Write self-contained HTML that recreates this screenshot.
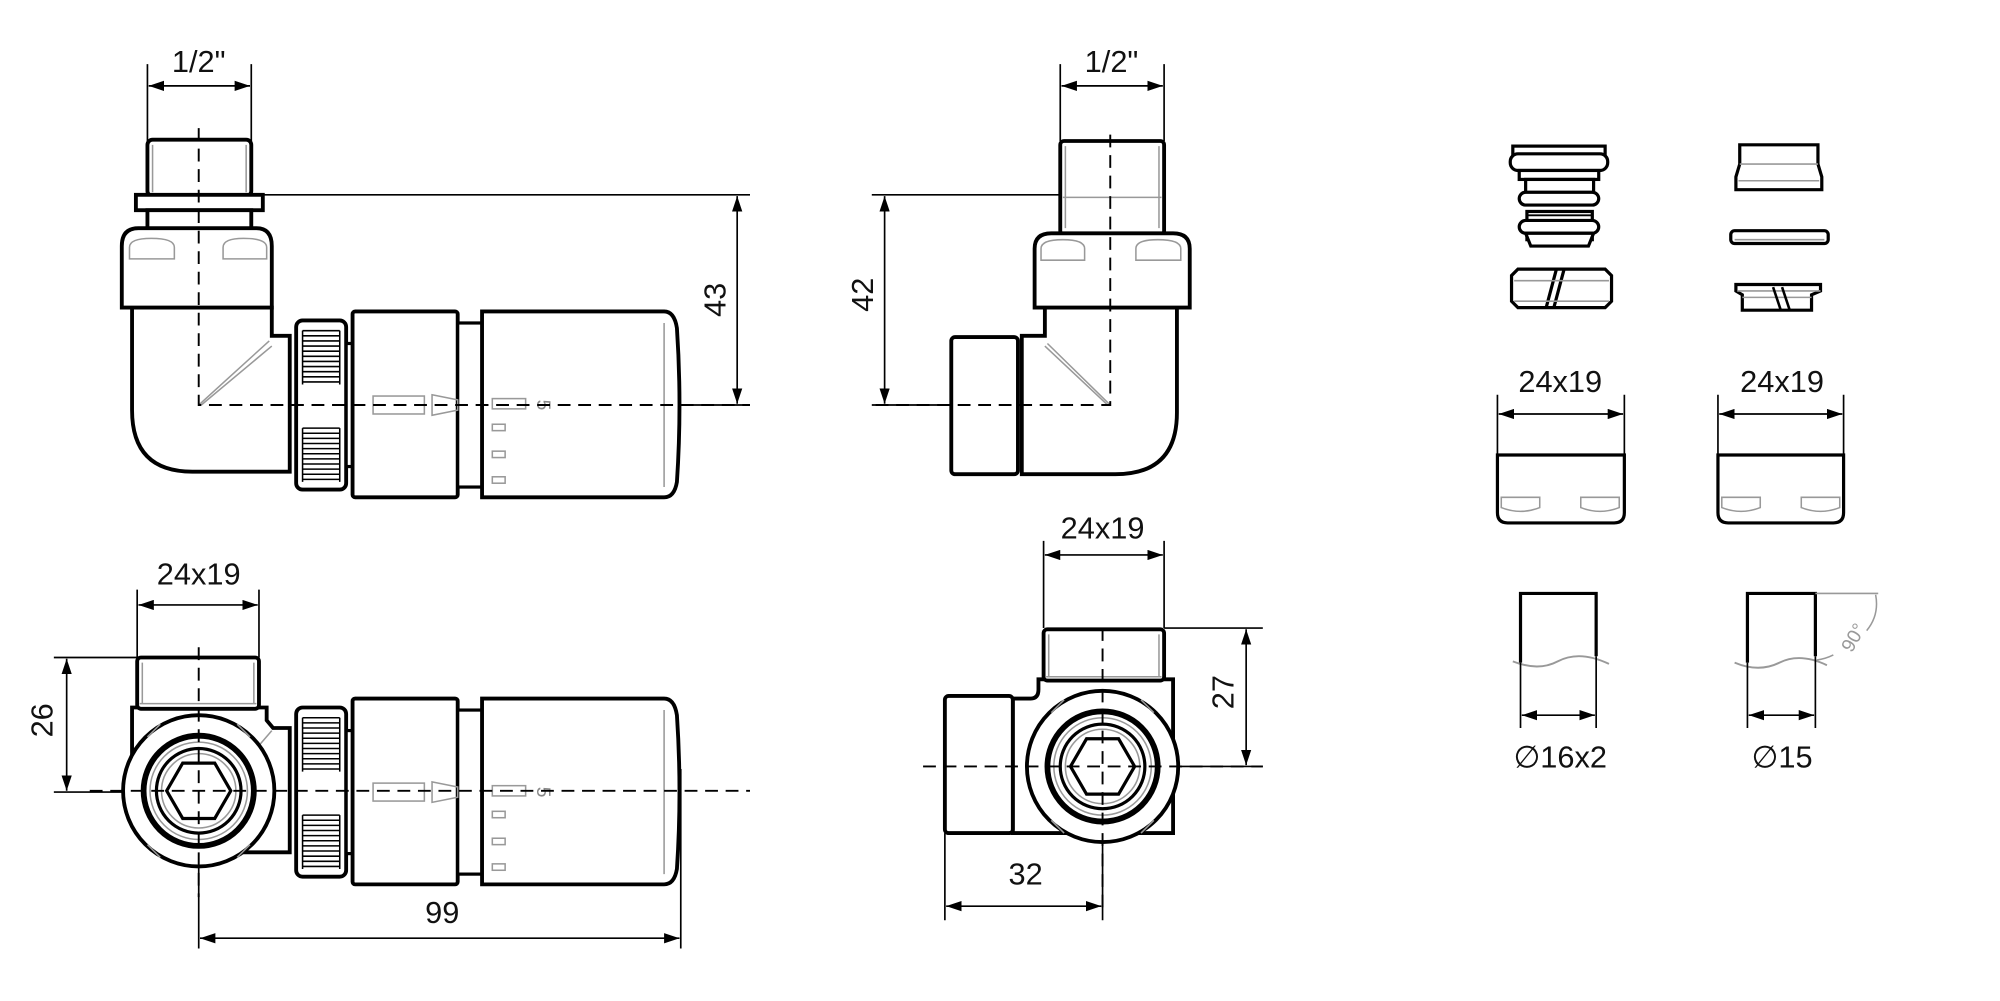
<!DOCTYPE html>
<html><head><meta charset="utf-8"><style>
html,body{margin:0;padding:0;background:#fff;}
svg{display:block;}
text{font-family:"Liberation Sans","DejaVu Sans",sans-serif;fill:#111;}
</style></head><body>
<svg width="2000" height="1001" viewBox="0 0 1560 781" preserveAspectRatio="none" xmlns="http://www.w3.org/2000/svg">
<defs>
<marker id="a" viewBox="0 0 12 8" refX="12" refY="4" markerWidth="12" markerHeight="8" markerUnits="userSpaceOnUse" orient="auto-start-reverse"><path d="M0,0 L12,4 L0,8 Z" fill="#000"/></marker>
<g id="head">
 <rect x="231" y="250" width="39" height="132" rx="5" fill="#fff" stroke="#000" stroke-width="3"/>
 <g stroke="#000" stroke-width="1.2">
  <path d="M236,258H265M236,262H265M236,266H265M236,270H265M236,274H265M236,278H265M236,282H265M236,286H265M236,290H265M236,294H265M236,298H265"/>
  <path d="M236,334H265M236,338H265M236,342H265M236,346H265M236,350H265M236,354H265M236,358H265M236,362H265M236,366H265M236,370H265M236,374H265"/>
  <path d="M236,258V300M265,258V300M236,334V376M265,334V376"/>
 </g>
 <rect x="270" y="268" width="6" height="96" fill="#fff" stroke="#000" stroke-width="2.5"/>
 <rect x="275" y="243" width="82" height="145" rx="2" fill="#fff" stroke="#000" stroke-width="3"/>
 <rect x="357" y="252" width="19" height="128" fill="#fff" stroke="#000" stroke-width="2.5"/>
 <path d="M376,243H518Q526,243 528,256Q532,316 528,376Q526,388 518,388H376Z" fill="#fff" stroke="#000" stroke-width="3"/>
 <g stroke="#999" stroke-width="1.2" fill="none">
  <path d="M518,252V380"/>
  <rect x="291" y="309" width="40" height="14"/>
  <path d="M337,308L357,312V320L337,324Z"/>
  <rect x="384" y="311" width="26" height="8"/>
  <rect x="384" y="331" width="10" height="5"/>
  <rect x="384" y="352" width="10" height="5"/>
  <rect x="384" y="372" width="10" height="5"/>
 </g>
 <text x="424" y="316" font-size="15" fill="#888" style="fill:#888" text-anchor="middle" transform="rotate(90 424 316)" dy="5">5</text>
</g>
<g id="face">
 <circle cx="0" cy="0" r="59" fill="#fff" stroke="#000" stroke-width="3"/>
 <g stroke="#999" stroke-width="1.2" fill="none"><path d="M-40,-42L-30,-52M40,-42L30,-52M-40,42L-30,52M40,42L30,52"/></g>
 <circle cx="0" cy="0" r="43" fill="none" stroke="#000" stroke-width="4.5"/>
 <circle cx="0" cy="0" r="38" fill="none" stroke="#999" stroke-width="1.2"/>
 <circle cx="0" cy="0" r="33" fill="none" stroke="#000" stroke-width="2.5"/>
 <circle cx="0" cy="0" r="29" fill="none" stroke="#999" stroke-width="1.2"/>
 <path d="M-25,0L-12.5,-21.6H12.5L25,0L12.5,21.6H-12.5Z" fill="#fff" stroke="#000" stroke-width="2.5"/>
</g>
</defs>

<!-- ===== TOP LEFT ===== -->
<g fill="none" stroke="#000" stroke-width="1.3">
 <path d="M115,50V110M196,50V110"/>
 <path d="M116,67H195" marker-start="url(#a)" marker-end="url(#a)"/>
 <path d="M205,152H585M530,316H585"/>
 <path d="M575,153V315" marker-start="url(#a)" marker-end="url(#a)"/>
</g>
<text x="155" y="56" font-size="24" text-anchor="middle">1/2"</text>
<text x="566" y="234" font-size="24" text-anchor="middle" transform="rotate(-90 566 234)" dy="0">43</text>

<rect x="115" y="109" width="81" height="44" rx="4" fill="#fff" stroke="#000" stroke-width="3"/>
<path d="M119,113V150M192,113V150" stroke="#999" stroke-width="1.2"/>
<rect x="106" y="152" width="99" height="12" fill="#fff" stroke="#000" stroke-width="3"/>
<rect x="115" y="164" width="81" height="15" fill="#fff" stroke="#000" stroke-width="3"/>
<path d="M212,240V262H226V368H150Q103,368 103,320V240Z" fill="#fff" stroke="#000" stroke-width="3"/>
<path d="M155,316L210,266M157,316L212,270" stroke="#999" stroke-width="1.2"/>
<path d="M95,240V192Q95,178 108,178H200Q212,178 212,192V240Z" fill="#fff" stroke="#000" stroke-width="3"/>
<g stroke="#999" stroke-width="1.2" fill="none">
 <path d="M101,202V193Q101,186 118,186Q136,186 136,193V202Z"/>
 <path d="M174,202V193Q174,186 190,186Q208,186 208,193V202Z"/>
</g>
<use href="#head"/>
<path d="M155,100V316H585" fill="none" stroke="#000" stroke-width="1.5" stroke-dasharray="10,6"/>

<!-- ===== TOP MIDDLE ===== -->
<g fill="none" stroke="#000" stroke-width="1.3">
 <path d="M827,50V110M908,50V110"/>
 <path d="M828,67H907" marker-start="url(#a)" marker-end="url(#a)"/>
 <path d="M680,152H827M680,316H742"/>
 <path d="M690,153V315" marker-start="url(#a)" marker-end="url(#a)"/>
</g>
<text x="867" y="56" font-size="24" text-anchor="middle">1/2"</text>
<text x="681" y="230" font-size="24" text-anchor="middle" transform="rotate(-90 681 230)">42</text>
<path d="M815,240V262H797V370H870Q918,370 918,322V240Z" fill="#fff" stroke="#000" stroke-width="3"/>
<path d="M866,316L817,268M864,316L815,270" stroke="#999" stroke-width="1.2"/>
<rect x="742" y="263" width="52" height="107" rx="3" fill="#fff" stroke="#000" stroke-width="3"/>
<rect x="827" y="110" width="81" height="73" rx="3" fill="#fff" stroke="#000" stroke-width="3"/>
<path d="M831,114V178M904,114V178M829,154H906" stroke="#999" stroke-width="1.2"/>
<path d="M807,240V194Q807,182 820,182H915Q928,182 928,194V240Z" fill="#fff" stroke="#000" stroke-width="3"/>
<g stroke="#999" stroke-width="1.2" fill="none">
 <path d="M812,203V194Q812,187 829,187Q846,187 846,194V203Z"/>
 <path d="M886,203V194Q886,187 903,187Q921,187 921,194V203Z"/>
</g>
<path d="M866,105V316H680" fill="none" stroke="#000" stroke-width="1.5" stroke-dasharray="10,6"/>

<!-- ===== BOTTOM LEFT ===== -->
<g fill="none" stroke="#000" stroke-width="1.3">
 <path d="M107,460V513M202,460V513"/>
 <path d="M108,472H201" marker-start="url(#a)" marker-end="url(#a)"/>
 <path d="M42,513H107M42,618H95"/>
 <path d="M52,514V617" marker-start="url(#a)" marker-end="url(#a)"/>
 <path d="M155,675V740M531,600V740"/>
 <path d="M156,732H530" marker-start="url(#a)" marker-end="url(#a)"/>
</g>
<text x="155" y="456" font-size="24" text-anchor="middle">24x19</text>
<text x="41" y="562" font-size="24" text-anchor="middle" transform="rotate(-90 41 562)">26</text>
<text x="345" y="720" font-size="24" text-anchor="middle">99</text>
<g transform="translate(0,302)"><use href="#head"/></g>
<path d="M103,600V552H208V562L213,568H226V665H175" fill="#fff" stroke="#000" stroke-width="3"/>
<path d="M200,584L212,570" stroke="#999" stroke-width="1.2"/>
<rect x="107" y="513" width="95" height="40" rx="3" fill="#fff" stroke="#000" stroke-width="3"/>
<path d="M111,517V549M198,517V549M109,549H200" stroke="#999" stroke-width="1.2"/>
<g transform="translate(155,617)"><use href="#face"/></g>
<path d="M155,505V700M70,617H585" fill="none" stroke="#000" stroke-width="1.5" stroke-dasharray="10,6"/>

<!-- ===== BOTTOM MIDDLE ===== -->
<g fill="none" stroke="#000" stroke-width="1.3">
 <path d="M814,422V490M908,422V490"/>
 <path d="M815,433H907" marker-start="url(#a)" marker-end="url(#a)"/>
 <path d="M908,490H985M918,598H985"/>
 <path d="M972,491V597" marker-start="url(#a)" marker-end="url(#a)"/>
 <path d="M737,650V718M860,640V718"/>
 <path d="M738,707H859" marker-start="url(#a)" marker-end="url(#a)"/>
</g>
<text x="860" y="420" font-size="24" text-anchor="middle">24x19</text>
<text x="962" y="540" font-size="24" text-anchor="middle" transform="rotate(-90 962 540)">27</text>
<text x="800" y="690" font-size="24" text-anchor="middle">32</text>
<path d="M810,530H915V650H790V545H804Q810,545 810,538Z" fill="#fff" stroke="#000" stroke-width="3"/>
<rect x="737" y="543" width="53" height="107" rx="3" fill="#fff" stroke="#000" stroke-width="3"/>
<rect x="814" y="491" width="94" height="40" rx="3" fill="#fff" stroke="#000" stroke-width="3"/>
<path d="M818,495V528M904,495V528M816,528H906" stroke="#999" stroke-width="1.2"/>
<g transform="translate(860,598)"><use href="#face"/></g>
<path d="M860,490V710M720,598H985" fill="none" stroke="#000" stroke-width="1.5" stroke-dasharray="10,6"/>

<!-- ===== RIGHT PARTS ===== -->
<!-- left column -->
<g fill="#fff" stroke="#000" stroke-width="2.5">
 <path d="M1196,168V154H1238V168Z"/>
 <path d="M1188,158H1245V190H1188Z" stroke-width="0"/>
 <rect x="1191" y="165" width="51" height="22" />
 <rect x="1180" y="114" width="72" height="7"/>
 <rect x="1178" y="120" width="76" height="13" rx="6"/>
 <rect x="1185" y="133" width="62" height="7"/>
 <rect x="1190" y="140" width="53" height="12"/>
 <rect x="1185" y="150" width="62" height="10" rx="5"/>
 <rect x="1185" y="172" width="62" height="10" rx="5"/>
 <path d="M1190,182H1243L1239,192H1194Z"/>
</g>
<g stroke="#000" stroke-width="1.5"><path d="M1191,160H1242M1191,165H1242M1191,168H1242"/></g>
<path d="M1179,215L1184,210H1252L1257,215V235L1252,240H1184L1179,235Z" fill="#fff" stroke="#000" stroke-width="2.5"/>
<path d="M1206,240L1214,210M1212,240L1220,210" stroke="#000" stroke-width="2.5"/>
<path d="M1181,219H1255M1181,235H1255" stroke="#999" stroke-width="1.2"/>
<!-- right column -->
<path d="M1357,113H1418V128L1421,138V148H1354V138L1357,128Z" fill="#fff" stroke="#000" stroke-width="2.5"/>
<path d="M1357,128H1418M1356,141H1419" stroke="#999" stroke-width="1.2"/>
<rect x="1350" y="180" width="76" height="10" rx="3" fill="#fff" stroke="#000" stroke-width="2.5"/>
<path d="M1353,187H1423" stroke="#999" stroke-width="1.2"/>
<path d="M1354,222H1420V227L1413,230V242H1359V230L1354,227Z" fill="#fff" stroke="#000" stroke-width="2.5"/>
<path d="M1355,227H1420M1359,232H1413" stroke="#999" stroke-width="1.2"/>
<path d="M1383,224L1389,242M1390,224L1396,242" stroke="#000" stroke-width="2"/>

<!-- caps -->
<g fill="none" stroke="#000" stroke-width="1.3">
 <path d="M1168,308V356M1267,308V356M1340,308V356M1438,308V356"/>
 <path d="M1169,323H1266" marker-start="url(#a)" marker-end="url(#a)"/>
 <path d="M1341,323H1437" marker-start="url(#a)" marker-end="url(#a)"/>
</g>
<text x="1217" y="306" font-size="24" text-anchor="middle">24x19</text>
<text x="1390" y="306" font-size="24" text-anchor="middle">24x19</text>
<path d="M1168,355H1267V400Q1267,408 1259,408H1176Q1168,408 1168,400Z" fill="#fff" stroke="#000" stroke-width="2.5"/>
<path d="M1340,355H1438V400Q1438,408 1430,408H1348Q1340,408 1340,400Z" fill="#fff" stroke="#000" stroke-width="2.5"/>
<g stroke="#999" stroke-width="1.2" fill="none">
 <path d="M1171,388H1201V396Q1186,402 1171,396Z"/>
 <path d="M1233,388H1263V396Q1248,402 1233,396Z"/>
 <path d="M1343,388H1373V396Q1358,402 1343,396Z"/>
 <path d="M1405,388H1435V396Q1420,402 1405,396Z"/>
</g>

<!-- pipes -->
<path d="M1186,517V463H1245V512" fill="none" stroke="#000" stroke-width="2.5"/>
<path d="M1363,517V463H1416V512" fill="none" stroke="#000" stroke-width="2.5"/>
<path d="M1180,516Q1200,524 1215,516Q1232,507 1255,518" fill="none" stroke="#999" stroke-width="1.5"/>
<path d="M1353,517Q1372,525 1388,517Q1404,509 1425,519" fill="none" stroke="#999" stroke-width="1.5"/>
<g fill="none" stroke="#000" stroke-width="1.3">
 <path d="M1186,517V568M1245,512V568M1363,517V568M1416,512V568"/>
 <path d="M1187,558H1244" marker-start="url(#a)" marker-end="url(#a)"/>
 <path d="M1364,558H1415" marker-start="url(#a)" marker-end="url(#a)"/>
</g>
<path d="M1416,463H1465" stroke="#999" stroke-width="1.2"/>
<path d="M1463,464Q1466,480 1456,492M1430,511Q1424,514 1417,515" fill="none" stroke="#999" stroke-width="1.2"/>
<text x="1450" y="500" font-size="15" fill="#999" style="fill:#999" text-anchor="middle" transform="rotate(-60 1450 500)">90°</text>
<text x="1217" y="599" font-size="24" text-anchor="middle">∅16x2</text>
<text x="1390" y="599" font-size="24" text-anchor="middle">∅15</text>
</svg>
</body></html>
